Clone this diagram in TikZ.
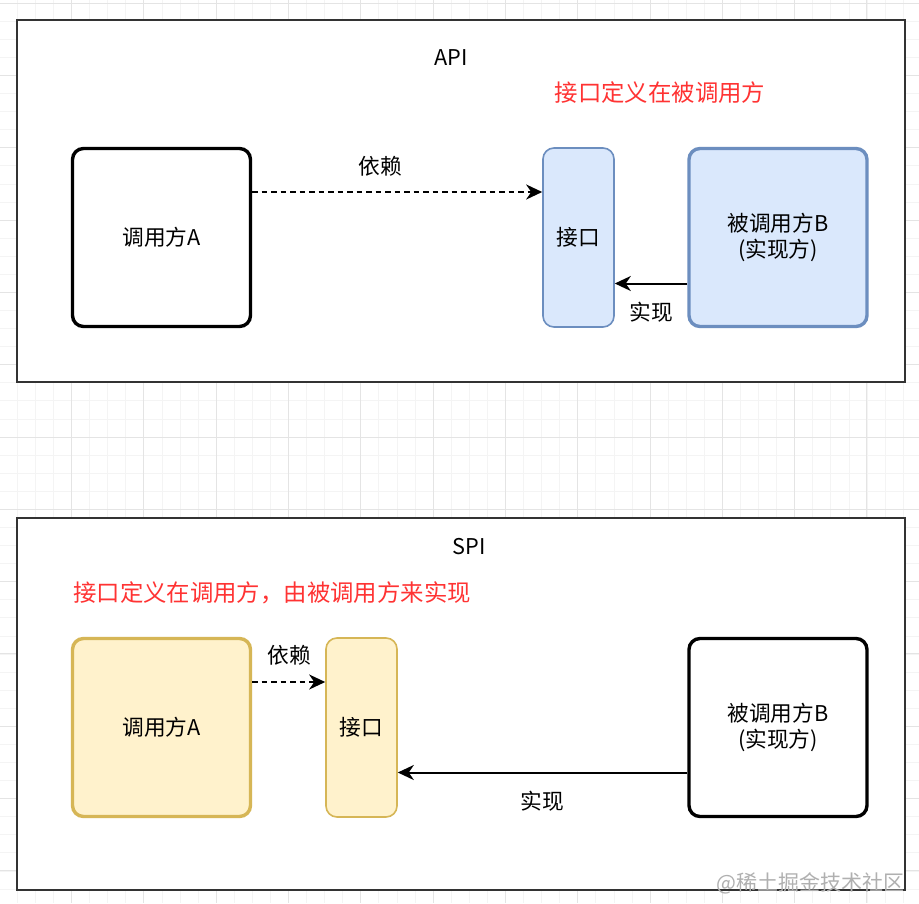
\documentclass[tikz,border=0pt]{standalone}
\usepackage{fontspec}
\newfontfamily\cjk{Noto Sans CJK SC}
\usetikzlibrary{arrows.meta}

\definecolor{frameline}{HTML}{333333}
\definecolor{bluefill}{HTML}{DAE8FC}
\definecolor{blueline}{HTML}{6C8EBF}
\definecolor{yellowfill}{HTML}{FFF2CC}
\definecolor{yellowline}{HTML}{D6B656}
\definecolor{notered}{HTML}{FF3333}
\definecolor{gridminor}{HTML}{F4F4F4}
\definecolor{gridmajor}{HTML}{E4E4E4}
\definecolor{markgray}{HTML}{B0B0B0}

\begin{document}
\begin{tikzpicture}[x=1pt,y=-1pt,
  txt/.style={font=\cjk\fontsize{21.7}{25.6}\selectfont,inner sep=0pt,align=center},
  redtxt/.style={font=\cjk\fontsize{23.4}{28}\selectfont,inner sep=0pt,text=notered},
  bigbox/.style={txt,draw,rounded corners=11pt,line width=3.4pt,minimum width=178pt,minimum height=178pt},
  slimbox/.style={txt,draw,rounded corners=11pt,line width=1.6pt,minimum width=71pt,minimum height=179pt},
  frame/.style={draw=frameline,fill=white,line width=2pt},
  link/.style={line width=2pt,-{Stealth[length=16pt,width=15pt,inset=5pt]}}]

\useasboundingbox (0,0) rectangle (919,903);

% background grid
\foreach \i in {0,...,51} {
    \draw [gridminor,line width=1pt] ({-0.7+18.08*\i},0) -- ++(0,903);
  }
\foreach \i in {0,...,49} {
    \draw [gridminor,line width=1pt] (0,{3.2+18.08*\i}) -- ++(919,0);
  }
\foreach \i in {0,...,12} {
    \draw [gridmajor,line width=1pt] ({-0.7+72.3*\i},0) -- ++(0,903);
    \draw [gridmajor,line width=1pt] (0,{3.2+72.3*\i}) -- ++(919,0);
  }

% API
\draw [frame] (17,20) rectangle (905,382);
\node[txt] (apiTitle) at (451,58) {API};
\node[redtxt] (apiNote) at (660,93) {接口定义在被调用方};

\node[bigbox] (apiCaller) at (161.5,237.5) {调用方A};
\node[slimbox,draw=blueline,fill=bluefill] (apiIface) at (578.5,237.5) {接口};
\node[bigbox,draw=blueline,fill=bluefill] (apiImpl) at (778,237.5) {被调用方B\\(实现方)};

\draw [link,dash pattern=on 5.5pt off 4pt] ([yshift=45.5pt]apiCaller.east) -- ([yshift=45.5pt]apiIface.west);
\node[txt] (apiDep) at (380,166) {依赖};
\draw [link] ([yshift=-46pt]apiImpl.west) -- ([yshift=-46pt]apiIface.east);
\node[txt] (apiRel) at (651,312) {实现};

% SPI
\draw [frame] (17,518) rectangle (905,890);
\node[txt] (spiTitle) at (469,547) {SPI};
\node[redtxt,anchor=west] (spiNote) at (73,593) {接口定义在调用方，由被调用方来实现};

\node[bigbox,draw=yellowline,fill=yellowfill] (spiCaller) at (161.5,727.5) {调用方A};
\node[slimbox,draw=yellowline,fill=yellowfill] (spiIface) at (361.5,727.5) {接口};
\node[bigbox] (spiImpl) at (778,727.5) {被调用方B\\(实现方)};

\draw [link,dash pattern=on 5.5pt off 4pt] ([yshift=45.5pt]spiCaller.east) -- ([yshift=45.5pt]spiIface.west);
\node[txt] (spiDep) at (289,655) {依赖};
\draw [link] ([yshift=-45pt]spiImpl.west) -- ([yshift=-45pt]spiIface.east);
\node[txt] (spiRel) at (542,801) {实现};

\node[txt,anchor=east,text=markgray,font=\cjk\fontsize{21}{24}\selectfont] (mark) at (905,883) {@稀土掘金技术社区};

\end{tikzpicture}
\end{document}
